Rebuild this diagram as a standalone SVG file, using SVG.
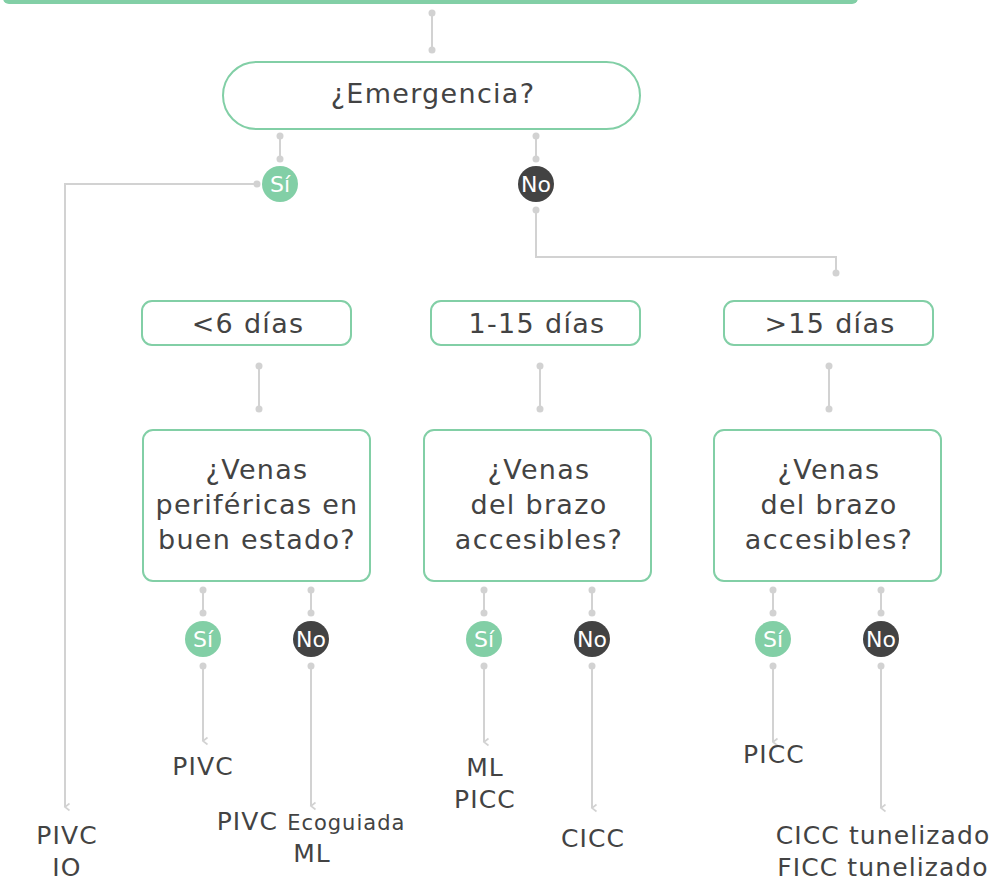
<svg xmlns="http://www.w3.org/2000/svg" width="993" height="883" viewBox="0 0 993 883">
<defs>
<style>
.box{fill:#fff;stroke:#82cfa6;stroke-width:2}
.t{font-family:"DejaVu Sans","Liberation Sans",sans-serif;fill:#434343;text-anchor:middle}
.big{font-size:27px;letter-spacing:1.3px}
.lbl{font-size:25px;letter-spacing:1.1px}
.small{font-size:21px;letter-spacing:1px}
.c{fill:none;stroke:#d2d2d2;stroke-width:2}
.d{fill:#d2d2d2}
.yes{fill:#82cfa6}
.no{fill:#434343}
.ct{font-family:"DejaVu Sans","Liberation Sans",sans-serif;fill:#fff;font-size:22px;text-anchor:middle}
</style>
<marker id="arr" markerWidth="10" markerHeight="10" refX="5" refY="8" orient="auto" markerUnits="userSpaceOnUse" viewBox="0 0 10 10">
<path d="M1.5,3.5 L5,8 L8.5,3.5" fill="none" stroke="#d2d2d2" stroke-width="1.6"/>
</marker>
</defs>
<rect width="993" height="883" fill="#fff"/>
<g id="top-bar"><rect x="3" y="-30" width="855" height="34" rx="6" fill="#82cfa6"/></g>

<g id="connectors">
<line class="c" x1="432" y1="13" x2="432" y2="50"/><circle class="d" cx="432" cy="13" r="3.5"/><circle class="d" cx="432" cy="50" r="3.5"/>
<line class="c" x1="280" y1="136" x2="280" y2="159"/><circle class="d" cx="280" cy="136" r="3.5"/><circle class="d" cx="280" cy="159" r="3.5"/>
<line class="c" x1="536" y1="136" x2="536" y2="159"/><circle class="d" cx="536" cy="136" r="3.5"/><circle class="d" cx="536" cy="159" r="3.5"/>
<polyline class="c" points="257,184 65,184 65,807" marker-end="url(#arr)"/><circle class="d" cx="257" cy="184" r="3.5"/>
<polyline class="c" points="536,210 536,257 836,257 836,273"/><circle class="d" cx="536" cy="210" r="3.5"/><circle class="d" cx="836" cy="273" r="3.5"/>
<line class="c" x1="259" y1="366" x2="259" y2="409"/><circle class="d" cx="259" cy="366" r="3.5"/><circle class="d" cx="259" cy="409" r="3.5"/>
<line class="c" x1="540" y1="366" x2="540" y2="409"/><circle class="d" cx="540" cy="366" r="3.5"/><circle class="d" cx="540" cy="409" r="3.5"/>
<line class="c" x1="829" y1="366" x2="829" y2="409"/><circle class="d" cx="829" cy="366" r="3.5"/><circle class="d" cx="829" cy="409" r="3.5"/>

<line class="c" x1="203" y1="590" x2="203" y2="613"/><circle class="d" cx="203" cy="590" r="3.5"/><circle class="d" cx="203" cy="613" r="3.5"/>
<line class="c" x1="311" y1="590" x2="311" y2="613"/><circle class="d" cx="311" cy="590" r="3.5"/><circle class="d" cx="311" cy="613" r="3.5"/>
<line class="c" x1="484" y1="590" x2="484" y2="613"/><circle class="d" cx="484" cy="590" r="3.5"/><circle class="d" cx="484" cy="613" r="3.5"/>
<line class="c" x1="592" y1="590" x2="592" y2="613"/><circle class="d" cx="592" cy="590" r="3.5"/><circle class="d" cx="592" cy="613" r="3.5"/>
<line class="c" x1="773" y1="590" x2="773" y2="613"/><circle class="d" cx="773" cy="590" r="3.5"/><circle class="d" cx="773" cy="613" r="3.5"/>
<line class="c" x1="881" y1="590" x2="881" y2="613"/><circle class="d" cx="881" cy="590" r="3.5"/><circle class="d" cx="881" cy="613" r="3.5"/>

<line class="c" x1="203" y1="666" x2="203" y2="741" marker-end="url(#arr)"/><circle class="d" cx="203" cy="666" r="3.5"/>
<line class="c" x1="311" y1="666" x2="311" y2="806" marker-end="url(#arr)"/><circle class="d" cx="311" cy="666" r="3.5"/>
<line class="c" x1="484" y1="666" x2="484" y2="742" marker-end="url(#arr)"/><circle class="d" cx="484" cy="666" r="3.5"/>
<line class="c" x1="592" y1="666" x2="592" y2="808" marker-end="url(#arr)"/><circle class="d" cx="592" cy="666" r="3.5"/>
<line class="c" x1="773" y1="666" x2="773" y2="742" marker-end="url(#arr)"/><circle class="d" cx="773" cy="666" r="3.5"/>
<line class="c" x1="881" y1="666" x2="881" y2="808" marker-end="url(#arr)"/><circle class="d" cx="881" cy="666" r="3.5"/>
</g>

<g id="emergencia"><rect class="box" x="223" y="62" width="417" height="67" rx="33.5"/><text class="t big" x="433" y="103">¿Emergencia?</text></g>

<g id="si-0"><circle class="yes" cx="280" cy="184" r="18"/><text class="ct" x="280" y="192">Sí</text></g>
<g id="no-0"><circle class="no" cx="536" cy="184" r="18"/><text class="ct" x="536" y="192">No</text></g>

<g id="lt6"><rect class="box" x="142" y="301" width="209" height="44" rx="10"/><text class="t big" x="248" y="333">&lt;6 días</text></g>
<g id="d1-15"><rect class="box" x="431" y="301" width="209" height="44" rx="10"/><text class="t big" x="537" y="333">1-15 días</text></g>
<g id="gt15"><rect class="box" x="724" y="301" width="209" height="44" rx="10"/><text class="t big" x="830" y="333">&gt;15 días</text></g>

<g id="q1"><rect class="box" x="143" y="430" width="227" height="151" rx="10"/>
<text class="t big"><tspan x="257" y="479">¿Venas</tspan><tspan x="257" y="514">periféricas en</tspan><tspan x="257" y="549">buen estado?</tspan></text></g>
<g id="q2"><rect class="box" x="424" y="430" width="227" height="151" rx="10"/>
<text class="t big"><tspan x="539" y="479">¿Venas</tspan><tspan x="539" y="514">del brazo</tspan><tspan x="539" y="549">accesibles?</tspan></text></g>
<g id="q3"><rect class="box" x="714" y="430" width="227" height="151" rx="10"/>
<text class="t big"><tspan x="829" y="479">¿Venas</tspan><tspan x="829" y="514">del brazo</tspan><tspan x="829" y="549">accesibles?</tspan></text></g>

<g id="si-1"><circle class="yes" cx="203" cy="639" r="18"/><text class="ct" x="203" y="647">Sí</text></g>
<g id="no-1"><circle class="no" cx="311" cy="639" r="18"/><text class="ct" x="311" y="647">No</text></g>
<g id="si-2"><circle class="yes" cx="484" cy="639" r="18"/><text class="ct" x="484" y="647">Sí</text></g>
<g id="no-2"><circle class="no" cx="592" cy="639" r="18"/><text class="ct" x="592" y="647">No</text></g>
<g id="si-3"><circle class="yes" cx="773" cy="639" r="18"/><text class="ct" x="773" y="647">Sí</text></g>
<g id="no-3"><circle class="no" cx="881" cy="639" r="18"/><text class="ct" x="881" y="647">No</text></g>

<g id="r-pivc-io"><text class="t lbl"><tspan x="67" y="844">PIVC</tspan><tspan x="67" y="876">IO</tspan></text></g>
<g id="r-pivc"><text class="t lbl" x="203" y="775">PIVC</text></g>
<g id="r-pivc-eco"><text class="t lbl"><tspan x="311" y="830">PIVC <tspan class="small">Ecoguiada</tspan></tspan><tspan x="312" y="862">ML</tspan></text></g>
<g id="r-ml-picc"><text class="t lbl"><tspan x="485" y="776">ML</tspan><tspan x="485" y="808">PICC</tspan></text></g>
<g id="r-cicc"><text class="t lbl" x="593" y="847">CICC</text></g>
<g id="r-picc"><text class="t lbl" x="774" y="763">PICC</text></g>
<g id="r-tun"><text class="t lbl"><tspan x="883" y="844">CICC tunelizado</tspan><tspan x="883" y="876">FICC tunelizado</tspan></text></g>
</svg>
